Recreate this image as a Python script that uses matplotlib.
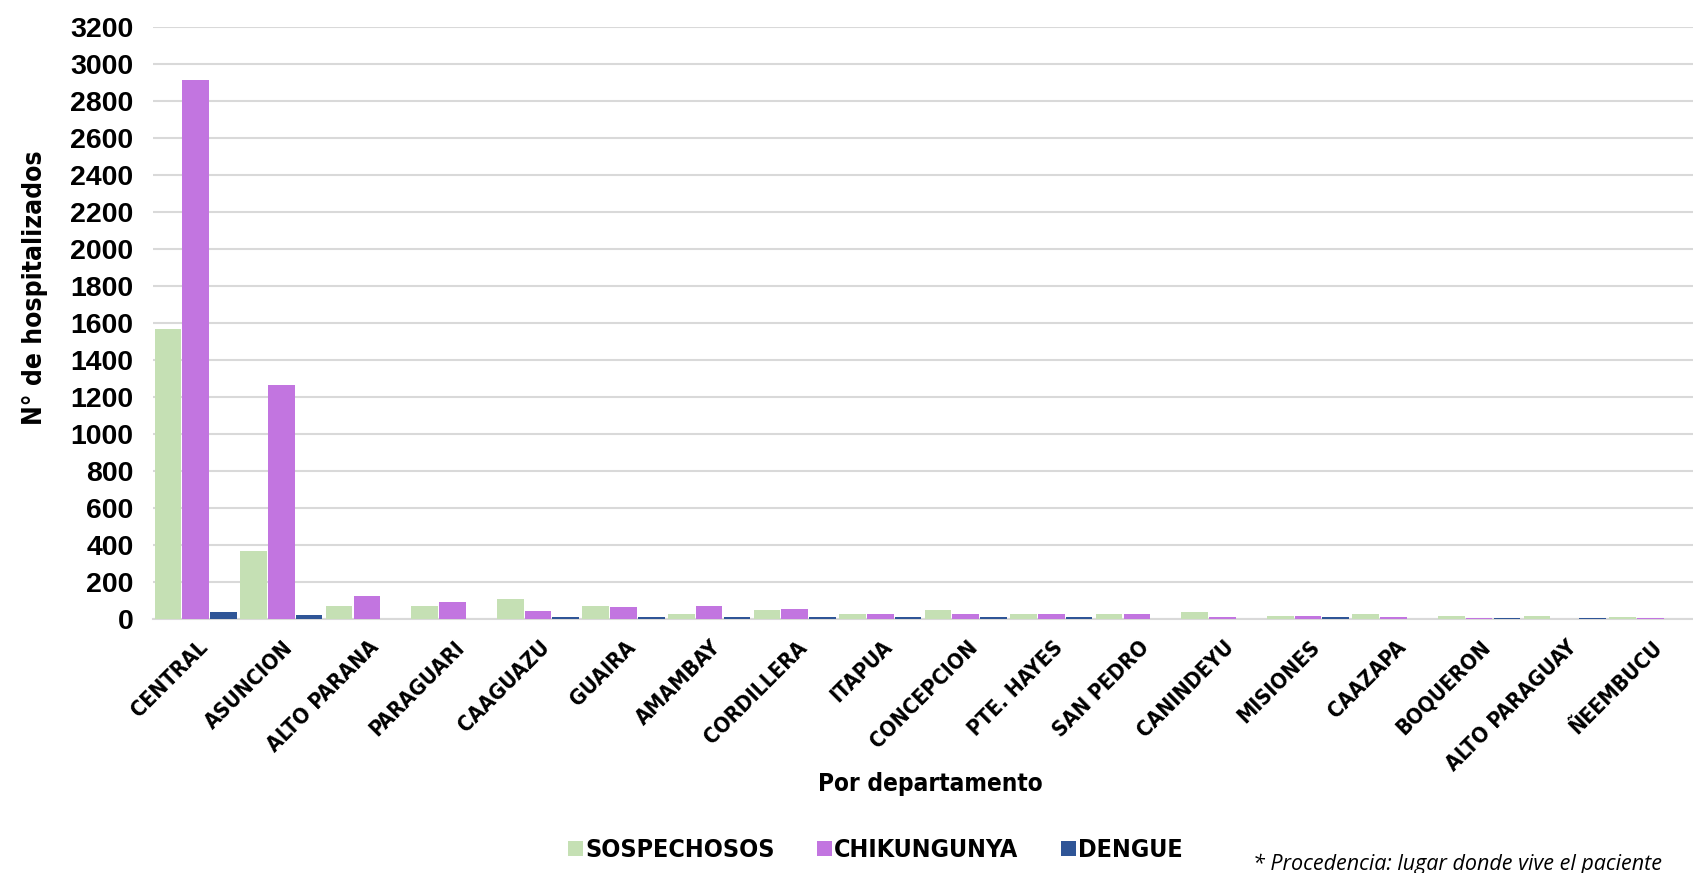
import numpy as np
import matplotlib
matplotlib.use('Agg')
import matplotlib.pyplot as plt
from matplotlib.patches import Patch

# data
departamentos = ['CENTRAL', 'ASUNCION', 'ALTO PARANA', 'PARAGUARI', 'CAAGUAZU', 'GUAIRA',
                 'AMAMBAY', 'CORDILLERA', 'ITAPUA', 'CONCEPCION', 'PTE. HAYES', 'SAN PEDRO',
                 'CANINDEYU', 'MISIONES', 'CAAZAPA', 'BOQUERON', 'ALTO PARAGUAY', 'ÑEEMBUCU']
sospechosos = [1565, 370, 72, 72, 108, 72, 29, 46, 28, 46, 28, 28, 37, 18, 28, 17, 17, 9]
chikungunya = [2915, 1267, 125, 92, 45, 65, 72, 53, 28, 28, 28, 28, 9, 18, 9, 8, 0, 8]
dengue      = [38, 21, 0, 0, 11, 11, 9, 9, 9, 9, 9, 0, 0, 9, 0, 8, 8, 0]

series_names = ['SOSPECHOSOS', 'CHIKUNGUNYA', 'DENGUE']
colors = ['#c5e0b4', '#c275e0', '#2f5597']
y_ticks = list(range(0, 3201, 200))

narrow = dict(family='DejaVu Sans', stretch='condensed', weight='bold')
wide = ['Liberation Sans', 'DejaVu Sans']

fig = plt.figure(figsize=(16.93, 8.73), dpi=100)
ax = fig.add_axes([153 / 1693, 1 - 619 / 873, 1540 / 1693, 592 / 873])

x = np.arange(len(departamentos))
w = 0.325
for k, (vals, col) in enumerate(zip([sospechosos, chikungunya, dengue], colors)):
    ax.bar(x + (k - 1) * w, vals, width=w * 0.96, color=col, edgecolor='none', zorder=3)

ax.set_xlim(-0.5, len(departamentos) - 0.5)
ax.set_ylim(0, 3200)
ax.set_yticks(y_ticks)
ax.set_yticklabels([str(t) for t in y_ticks], family=wide, weight='bold', fontsize=20.5)
ax.grid(axis='y', color='#d9d9d9', linewidth=1.5, zorder=0)
ax.tick_params(axis='y', length=0, pad=14)
ax.tick_params(axis='x', length=0, pad=13)
for s in ['top', 'right', 'left']:
    ax.spines[s].set_visible(False)
ax.spines['bottom'].set_color('#d9d9d9')
ax.spines['bottom'].set_linewidth(1.5)

ax.set_xticks(x + 0.02)
ax.set_xticklabels(departamentos, rotation=45, ha='right', rotation_mode='anchor',
                   fontsize=15.5, **narrow)

ax.set_ylabel('N° de hospitalizados', fontsize=19, **narrow)
ax.yaxis.set_label_coords(-0.068, 0.56)
ax.set_xlabel('Por departamento', fontsize=17.5, **narrow)
ax.xaxis.set_label_coords(0.505, -0.258)

handles = [Patch(facecolor=c, edgecolor='none') for c in colors]
fig.legend(handles, series_names, loc='center', bbox_to_anchor=(0.517, 0.026), ncol=3,
           frameon=False, handlelength=0.6, handleheight=0.6, handletextpad=0.08,
           columnspacing=1.7, prop=dict(size=18, **narrow))

fig.text(1253 / 1693, 0.01, '* Procedencia: lugar donde vive el paciente', family=['Open Sans', 'DejaVu Sans'],
         style='italic', fontsize=15.5, va='center', ha='left')

fig.savefig('out.png', dpi=100)
